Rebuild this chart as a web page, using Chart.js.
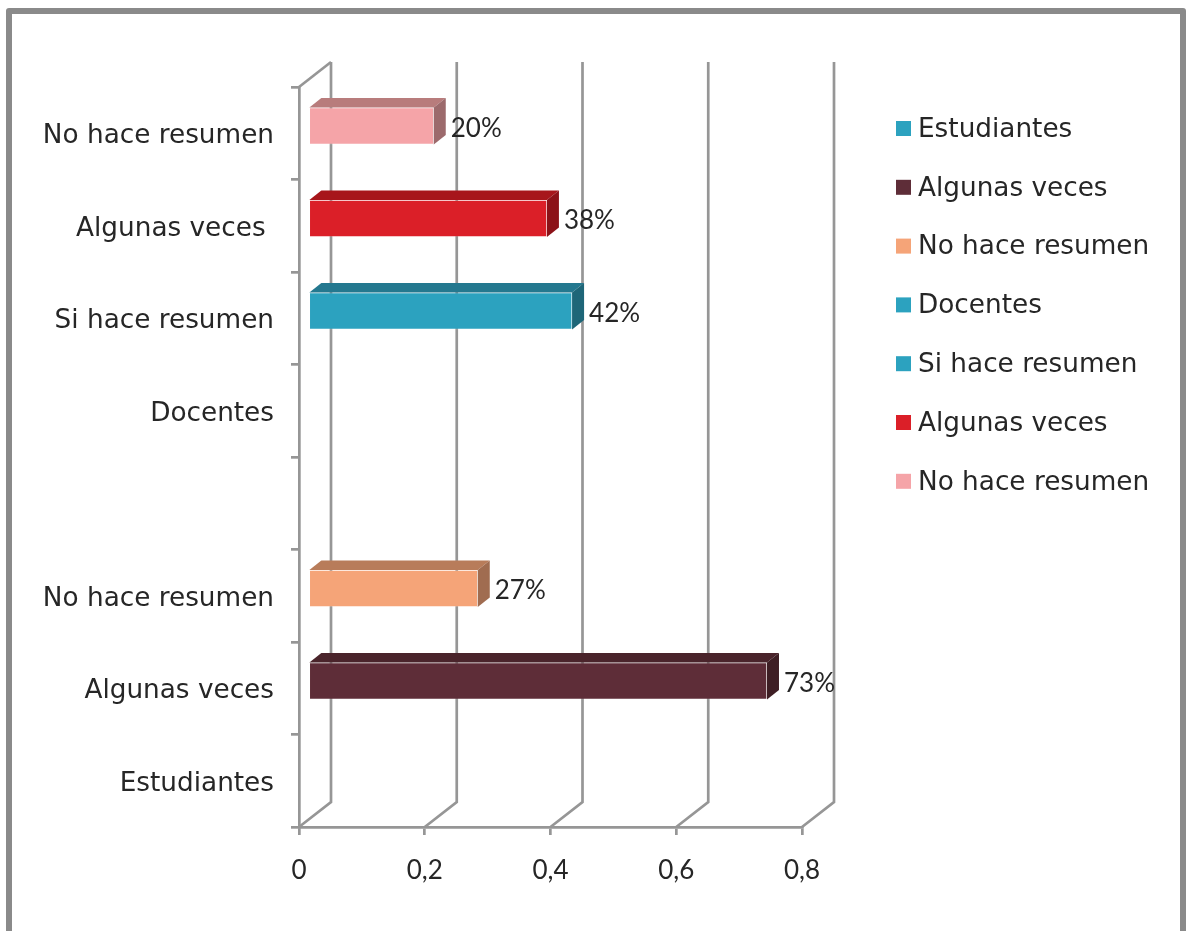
<!DOCTYPE html>
<html>
<head>
<meta charset="utf-8">
<title>Resumen</title>
<style>
    html, body { margin: 0; padding: 0; background: #fff; overflow: hidden; width: 1186px; height: 931px; }
    #frame { position: absolute; left: 6px; top: 8px; width: 1168px; height: 960px; border: 6px solid #8a8a8a; border-radius: 3px; }
    #chart { position: absolute; left: 0; top: 0; }
</style>
<script src="https://cdn.jsdelivr.net/npm/chart.js@4"></script>
</head>
<body>
<div id="frame"></div>
<canvas id="chart" width="1186" height="931"></canvas>
<script>
// bottom to top, the empty one is the gap between the two groups
var categories = ["Estudiantes", "Algunas veces", "No hace resumen", "", "Docentes", "Si hace resumen", "Algunas veces ", "No hace resumen"];
var values = [null, 0.73, 0.27, null, null, 0.42, 0.38, 0.20];
var xTickLabels = ["0", "0,2", "0,4", "0,6", "0,8"];
var frontColors = ["#2ca2bf", "#5e2d38", "#f5a478", "#2ca2bf", "#2ca2bf", "#2ca2bf", "#db1f28", "#f5a4a8"];
var topColors = ["#24788f", "#4a242b", "#b87c5a", "#24788f", "#24788f", "#24788f", "#a7161b", "#b87c7c"];
var sideColors = ["#1e6678", "#3e1e24", "#a06c50", "#1e6678", "#1e6678", "#1e6678", "#8c1218", "#9c6a6c"];
var legendLabels = ["Estudiantes", "Algunas veces", "No hace resumen", "Docentes", "Si hace resumen", "Algunas veces", "No hace resumen"];
var legendColors = ["#2ca2bf", "#5e2d38", "#f5a478", "#2ca2bf", "#2ca2bf", "#db1f28", "#f5a4a8"];

var textFont = "'DejaVu Sans', sans-serif";
var textSize = 26.3;
var textColor = "#262626";
var numberFont = "Lato, sans-serif";
var numberSize = 26;
var lineGrey = "#969696";
var lineWidth = 2.7;
var wallX = 32, wallY = 25;   // depth of the back wall
var barX = 9, barY = 7.25;    // bars stand a bit inside the box
var depthX = 12, depthY = 9.5;

// back wall lines, behind the bars
var wall = {
    id: "wall",
    beforeDatasetsDraw: function (chart) {
        var ctx = chart.ctx, area = chart.chartArea, xs = chart.scales.x;
        ctx.save();
        ctx.strokeStyle = lineGrey;
        ctx.lineWidth = lineWidth;
        xs.ticks.forEach(function (t) {
            var x = xs.getPixelForValue(t.value);
            ctx.beginPath();
            ctx.moveTo(x, area.bottom);
            ctx.lineTo(x + wallX, area.bottom - wallY);
            ctx.lineTo(x + wallX, area.top - wallY);
            ctx.stroke();
        });
        ctx.beginPath();
        ctx.moveTo(area.left, area.top);
        ctx.lineTo(area.left + wallX, area.top - wallY);
        ctx.stroke();
        ctx.restore();
        // the library draws the fronts, moved into the box
        ctx.save();
        ctx.translate(barX, -barY);
    },
    afterDatasetsDraw: function (chart) {
        var ctx = chart.ctx;
        ctx.restore();
        var bars = chart.getDatasetMeta(0).data;
        ctx.save();
        bars.forEach(function (bar, i) {
            if (values[i] === null) return;
            var left = bar.base + barX, right = bar.x + barX;
            var top = bar.y - barY - bar.height / 2, bottom = bar.y - barY + bar.height / 2;
            ctx.fillStyle = topColors[i];
            ctx.beginPath();
            ctx.moveTo(left, top);
            ctx.lineTo(left + depthX, top - depthY);
            ctx.lineTo(right + depthX, top - depthY);
            ctx.lineTo(right, top);
            ctx.closePath();
            ctx.fill();
            ctx.fillStyle = sideColors[i];
            ctx.beginPath();
            ctx.moveTo(right, top);
            ctx.lineTo(right + depthX, top - depthY);
            ctx.lineTo(right + depthX, bottom - depthY);
            ctx.lineTo(right, bottom);
            ctx.closePath();
            ctx.fill();
            // value label
            ctx.fillStyle = textColor;
            ctx.font = numberSize + "px " + numberFont;
            ctx.textAlign = "left";
            ctx.textBaseline = "middle";
            ctx.fillText(Math.round(values[i] * 100) + "%", right + 17, bar.y - 5);
        });
        ctx.restore();
    }
};

// legend keeps its own spacing, box and text closer than the built in one allows
var sideLegend = {
    id: "sideLegend",
    afterDraw: function (chart) {
        var ctx = chart.ctx;
        ctx.save();
        ctx.font = textSize + "px " + textFont;
        ctx.textAlign = "left";
        ctx.textBaseline = "middle";
        legendLabels.forEach(function (label, i) {
            var y = 128 + i * 58.8;
            ctx.fillStyle = legendColors[i];
            ctx.fillRect(896, y - 7, 15, 15);
            ctx.fillStyle = textColor;
            ctx.fillText(label, 918, y + 2);
        });
        ctx.restore();
    }
};

new Chart(document.getElementById("chart").getContext("2d"), {
    type: "bar",
    data: {
        labels: categories,
        datasets: [{
            data: values,
            backgroundColor: frontColors,
            borderColor: "rgba(255,255,255,0.15)",
            borderWidth: 1,
            borderSkipped: false,
            barThickness: 37
        }]
    },
    options: {
        indexAxis: "y",
        responsive: false,
        animation: false,
        layout: { padding: { top: 87, right: 384 } },
        plugins: { legend: { display: false }, tooltip: { enabled: false } },
        scales: {
            x: {
                min: 0,
                max: 0.8,
                afterFit: function (scale) { scale.height = 104; },
                grid: { drawOnChartArea: false, color: lineGrey, lineWidth: lineWidth, tickLength: 8 },
                border: { color: lineGrey, width: lineWidth },
                ticks: {
                    stepSize: 0.2,
                    maxRotation: 0,
                    padding: 20,
                    color: textColor,
                    font: { family: numberFont, size: numberSize },
                    callback: function (value, index) { return xTickLabels[index]; }
                }
            },
            y: {
                reverse: true,
                afterFit: function (scale) { scale.width = 299; },
                grid: { drawOnChartArea: false, color: lineGrey, lineWidth: lineWidth, tickLength: 8 },
                border: { color: lineGrey, width: lineWidth },
                ticks: {
                    autoSkip: false,
                    padding: 17,
                    labelOffset: 3,
                    color: textColor,
                    font: { family: textFont, size: textSize }
                }
            }
        }
    },
    plugins: [wall, sideLegend]
});
</script>
</body>
</html>
